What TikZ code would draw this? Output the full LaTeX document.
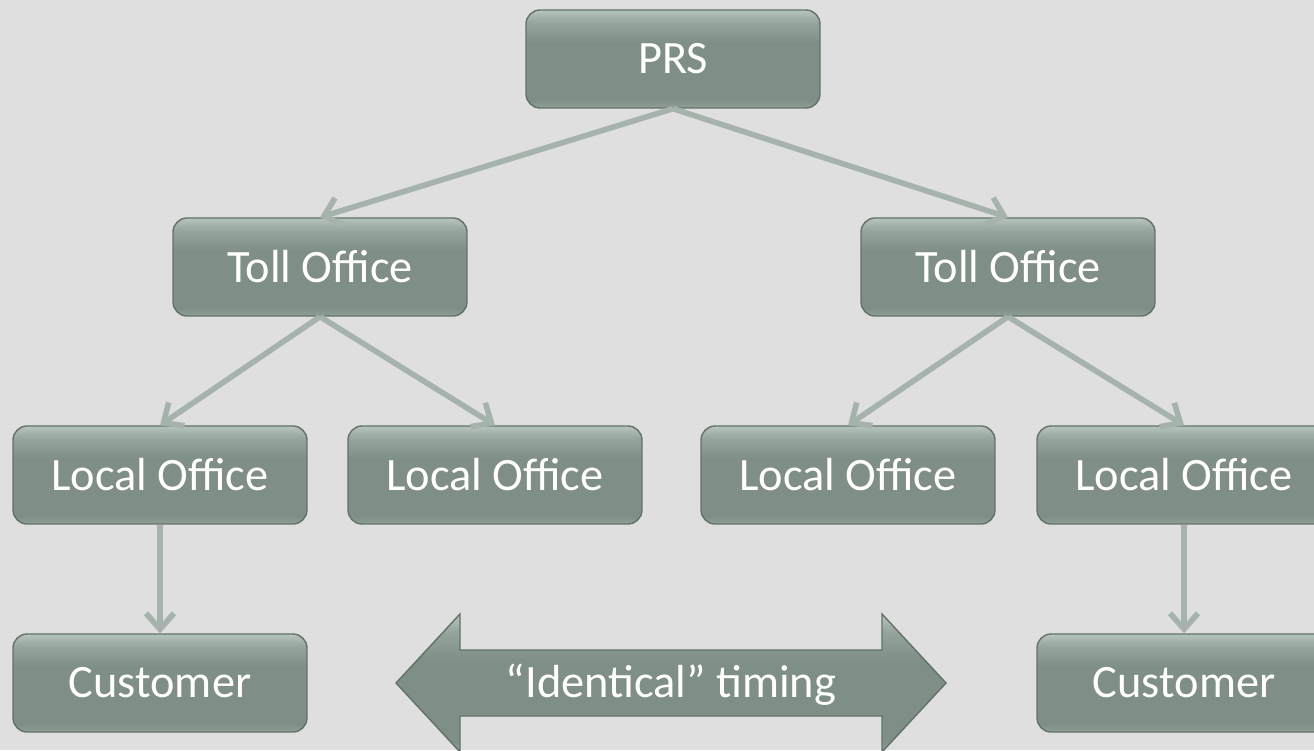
\documentclass[tikz,border=0pt]{standalone}
\usepackage{fontspec}
\setmainfont{Carlito}
\usetikzlibrary{arrows.meta,positioning}

\definecolor{bgc}{HTML}{DFDFDF}
\definecolor{boxline}{HTML}{62726A}
\definecolor{linkc}{HTML}{A6B3AC}
\definecolor{shTop}{HTML}{B6C4BC}
\definecolor{shHi}{HTML}{93A399}
\definecolor{shMid}{HTML}{7F8F86}
\definecolor{shLow}{HTML}{90A096}
\pgfdeclareverticalshading{boxshade}{100bp}{color(0bp)=(shLow); color(25bp)=(shLow); color(29bp)=(shMid); color(58bp)=(shMid); color(68bp)=(shHi); color(75bp)=(shTop); color(100bp)=(shTop)}

\begin{document}
\begin{tikzpicture}[x=0.02cm, y=-0.02cm,
  unit/.style={rectangle, rounded corners=0.28cm, draw=boxline, line width=0.8pt, shading=boxshade,
    minimum width=5.88cm, minimum height=1.96cm, text=white, font=\fontsize{26.4}{30}\selectfont},
  link/.style={draw=linkc, line width=3.2pt, -{Straight Barb[length=9pt, width=16pt]}},
]
  \fill[bgc] (0,0) rectangle (1314,750);
  \useasboundingbox (0,0) rectangle (1314,750);
  \clip (0,0) rectangle (1314,750);

  \node[unit] (prs) at (673,59) {PRS};

  \node[unit] (tollL) at (320,267) {Toll Office};
  \node[unit] (tollR) at (1008,267) {Toll Office};

  \node[unit] (localA) at (160,475) {Local Office};
  \node[unit] (localB) at (495,475) {Local Office};
  \node[unit] (localC) at (848,475) {Local Office};
  \node[unit] (localD) at (1184,475) {Local Office};

  \node[unit] (custA) at (160,683) {Customer};
  \node[unit] (custD) at (1184,683) {Customer};

  \draw[link] (prs.south) -- (tollL.north);
  \draw[link] (prs.south) -- (tollR.north);
  \draw[link] (tollL.south) -- (localA.north);
  \draw[link] (tollL.south) -- (localB.north);
  \draw[link] (tollR.south) -- (localC.north);
  \draw[link] (tollR.south) -- (localD.north);
  \draw[link] (localA.south) -- (custA.north);
  \draw[link] (localD.south) -- (custD.north);

  \draw[draw=boxline, line width=0.8pt, shading=boxshade]
    (396,683) -- (460,614) -- (460,650) -- (882,650) -- (882,614) -- (946,683)
    -- (882,752) -- (882,716) -- (460,716) -- (460,752) -- cycle;
  \node[text=white, font=\fontsize{26.4}{30}\selectfont] (timing) at (671,685) {“Identical” timing};
\end{tikzpicture}
\end{document}
